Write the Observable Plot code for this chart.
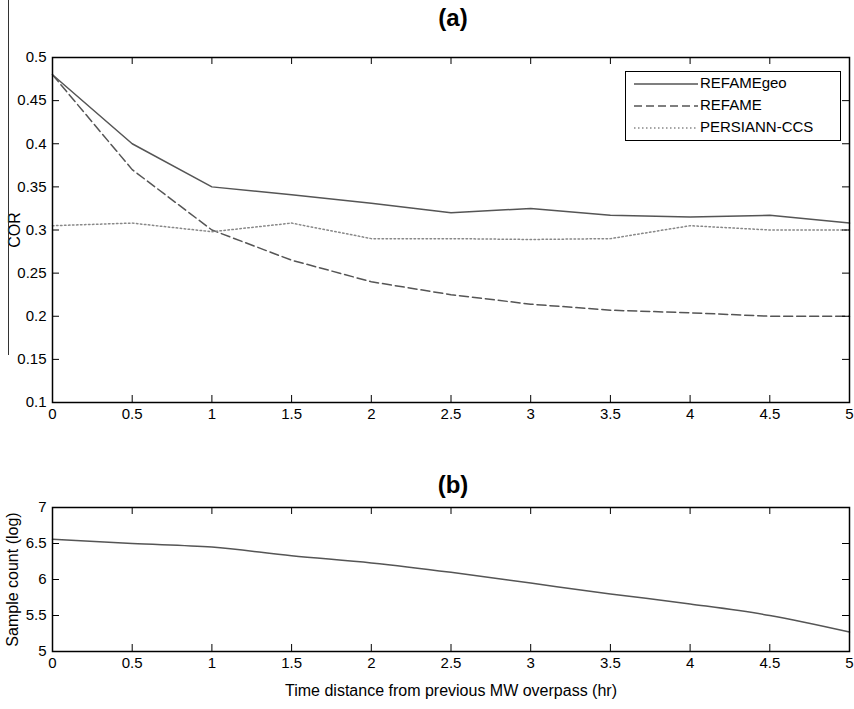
<!DOCTYPE html>
<html><head><meta charset="utf-8">
<script src="https://cdn.jsdelivr.net/npm/d3@7"></script>
<script src="https://cdn.jsdelivr.net/npm/@observablehq/plot@0.6"></script>
<style>
body{margin:0;background:#fff;font-family:"Liberation Sans Narrow","Liberation Sans",Arial,sans-serif;}
#wrap{position:relative;width:854px;height:709px;}
svg{overflow:visible;}
.ttl{text-align:center;font-weight:bold;font-size:24px;font-family:"Liberation Sans",Arial,sans-serif;}
#legend{position:absolute;left:625px;top:71px;width:216px;height:70px;border:1.5px solid #000;background:#fff;font-size:15px;box-sizing:border-box;}
#legend div{position:absolute;left:74px;}
#legend svg{position:absolute;left:4px;}
#vline{position:absolute;left:8px;top:0;width:1px;height:355px;background:#333;}
</style></head><body>
<div id="wrap">
<div id="vline"></div>
<div class="ttl" style="height:35px;line-height:36px;padding-left:52px">(a)</div>
<div id="p1"></div>
<div class="ttl" style="height:70px;line-height:110px;padding-left:52px">(b)</div>
<div id="p2"></div>
<div id="legend">
<svg width="70" height="70">
<line x1="4" x2="68" y1="12" y2="12" stroke="#555" stroke-width="1.5"/>
<line x1="4" x2="68" y1="34" y2="34" stroke="#555" stroke-width="1.5" stroke-dasharray="8,4"/>
<line x1="4" x2="68" y1="56" y2="56" stroke="#888" stroke-width="1.5" stroke-dasharray="1.5,2.5"/>
</svg>
<div style="top:2px">REFAMEgeo</div>
<div style="top:24px">REFAME</div>
<div style="top:46px">PERSIANN-CCS</div>
</div>
</div>
<script>
const hours = [0,0.5,1,1.5,2,2.5,3,3.5,4,4.5,5];
const refameGeo = [0.48,0.40,0.35,0.341,0.331,0.320,0.325,0.317,0.315,0.317,0.308];
const refame = [0.48,0.37,0.30,0.265,0.240,0.225,0.214,0.207,0.204,0.200,0.200];
const persiann = [0.305,0.308,0.298,0.308,0.290,0.290,0.289,0.290,0.305,0.300,0.300];
const sampleLog = [6.56,6.50,6.45,6.33,6.23,6.10,5.95,5.80,5.66,5.50,5.27];
const xTicks = [0,0.5,1,1.5,2,2.5,3,3.5,4,4.5,5];
const yTicksA = [0.1,0.15,0.2,0.25,0.3,0.35,0.4,0.45,0.5];
const yTicksB = [5,5.5,6,6.5,7];

const rows = (ys) => hours.map((h,i)=>({x:h,y:ys[i]}));
const style = {fontSize:"15px",fontFamily:"'Liberation Sans Narrow','Liberation Sans',Arial,sans-serif",color:"#000"};
function axes(yTicks, ydom, plotH){
  const ty=(ydom[1]-ydom[0])*7/plotH;
  const tkx = 5*7/797;
  return [
    Plot.axisX({ticks:xTicks,tickSize:0,tickPadding:6,tickFormat:d=>String(d),label:null}),
    Plot.axisY({ticks:yTicks,tickSize:0,tickPadding:6,tickFormat:d=>String(d),label:null}),
    Plot.ruleX(xTicks,{x:d=>d,y1:ydom[0],y2:ydom[0]+ty,stroke:"#000"}),
    Plot.ruleX(xTicks,{x:d=>d,y1:ydom[1],y2:ydom[1]-ty,stroke:"#000"}),
    Plot.ruleY(yTicks,{y:d=>d,x1:0,x2:tkx,stroke:"#000"}),
    Plot.ruleY(yTicks,{y:d=>d,x1:5,x2:5-tkx,stroke:"#000"}),
    Plot.frame({stroke:"#000",strokeWidth:1.5})
  ];
}
const p1 = Plot.plot({
  width:854,height:395,marginTop:22,marginBottom:28,marginLeft:52,marginRight:5,style,
  x:{domain:[0,5]},y:{domain:[0.1,0.5]},
  marks:[
    Plot.line(rows(refameGeo),{x:"x",y:"y",stroke:"#555",strokeWidth:1.5}),
    Plot.line(rows(refame),{x:"x",y:"y",stroke:"#555",strokeWidth:1.5,strokeDasharray:"9,4"}),
    Plot.line(rows(persiann),{x:"x",y:"y",stroke:"#888",strokeWidth:1.5,strokeDasharray:"1.5,2.5"}),
    ...axes(yTicksA,[0.1,0.5],345),
    Plot.text(["COR"],{frameAnchor:"left",textAnchor:"middle",dx:-38,rotate:-90,fontSize:16})
  ]
});
document.getElementById("p1").append(p1);
const p2 = Plot.plot({
  width:854,height:209,marginTop:7,marginBottom:58,marginLeft:52,marginRight:5,style,
  x:{domain:[0,5]},y:{domain:[5,7]},
  marks:[
    Plot.line(rows(sampleLog),{x:"x",y:"y",stroke:"#555",strokeWidth:1.5,curve:"monotone-x"}),
    ...axes(yTicksB,[5,7],144),
    Plot.text(["Sample count (log)"],{frameAnchor:"left",textAnchor:"middle",dx:-40,rotate:-90,fontSize:16,fontFamily:"'Liberation Sans',Arial,sans-serif"}),
    Plot.text(["Time distance from previous MW overpass (hr)"],{frameAnchor:"bottom",dy:44,fontSize:16})
  ]
});
document.getElementById("p2").append(p2);
</script>
</body></html>
